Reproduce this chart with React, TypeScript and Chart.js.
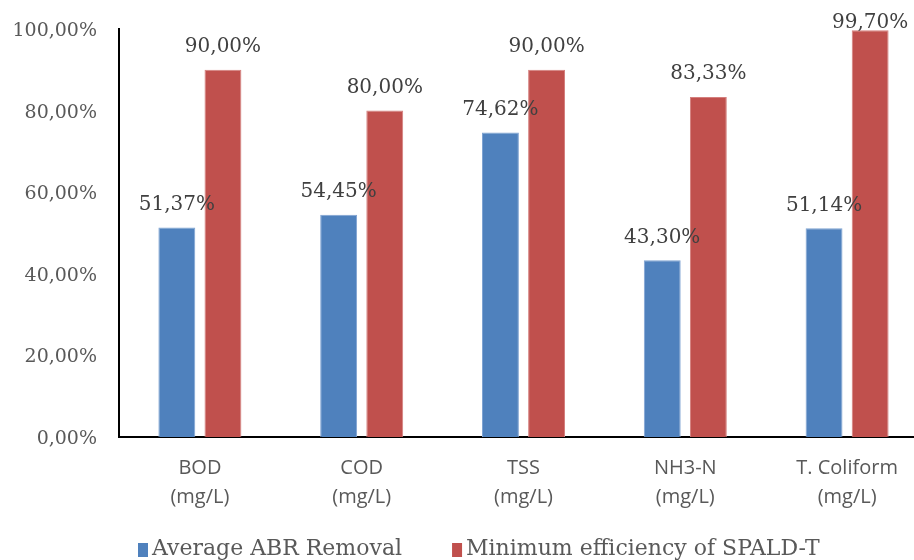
import React, { useEffect, useRef } from "react";
import { Chart, registerables } from "chart.js";

Chart.register(...registerables);

const categories: string[][] = [
  ["BOD", "(mg/L)"],
  ["COD", "(mg/L)"],
  ["TSS", "(mg/L)"],
  ["NH3-N", "(mg/L)"],
  ["T. Coliform", "(mg/L)"],
];
const abrRemoval: number[] = [51.37, 54.45, 74.62, 43.3, 51.14];
const spaldMin: number[] = [90.0, 80.0, 90.0, 83.33, 99.7];
const seriesNames: string[] = ["Average ABR Removal", "Minimum efficiency of SPALD-T"];
const yTicks: number[] = [0, 20, 40, 60, 80, 100];

const fmt = (v: number) => v.toFixed(2).replace(".", ",") + "%";

const SERIF = "'DejaVu Serif', 'Liberation Serif', serif";

const labelPlugin = {
  id: "barLabels",
  afterDatasetsDraw(chart: any) {
    const ctx = chart.ctx;
    const minBottom = chart.chartArea.top + 4;
    ctx.save();
    ctx.font = `20px ${SERIF}`;
    ctx.fillStyle = "#404040";
    ctx.textAlign = "center";
    ctx.textBaseline = "bottom";
    chart.data.datasets.forEach((ds: any, i: number) => {
      const meta = chart.getDatasetMeta(i);
      meta.data.forEach((bar: any, j: number) => {
        ctx.fillText(fmt(ds.data[j]), bar.x, Math.max(bar.y - 13, minBottom));
      });
    });
    ctx.restore();
  },
};

const legendPlugin = {
  id: "customLegend",
  afterDraw(chart: any) {
    const ctx = chart.ctx;
    ctx.save();
    ctx.font = `22px ${SERIF}`;
    ctx.textBaseline = "middle";
    ctx.textAlign = "left";
    const yMid = 549;
    let x = chart.chartArea.left + 19;
    chart.data.datasets.forEach((ds: any) => {
      ctx.fillStyle = ds.backgroundColor;
      ctx.fillRect(x, yMid - 6, 10, 14);
      ctx.fillStyle = "#595959";
      ctx.fillText(ds.label, x + 14, yMid);
      x += 14 + ctx.measureText(ds.label).width + 50;
    });
    ctx.restore();
  },
};

export default function App() {
  const ref = useRef<HTMLCanvasElement | null>(null);
  useEffect(() => {
    if (!ref.current) return;
    const chart = new Chart(ref.current, {
      type: "bar",
      data: {
        labels: categories,
        datasets: [
          {
            label: seriesNames[0],
            data: abrRemoval,
            backgroundColor: "#4F81BD",
            borderColor: "#7FA3D2",
            borderWidth: 1,
            categoryPercentage: 0.57,
            barPercentage: 0.8,
          },
          {
            label: seriesNames[1],
            data: spaldMin,
            backgroundColor: "#C0504D",
            borderColor: "#D47F7D",
            borderWidth: 1,
            categoryPercentage: 0.57,
            barPercentage: 0.8,
          },
        ],
      },
      options: {
        responsive: false,
        animation: false,
        layout: { padding: { top: 29, left: 0, right: 0, bottom: 41 } },
        plugins: {
          tooltip: { enabled: false },
          legend: { display: false },
        },
        scales: {
          x: {
            grid: { display: false, drawTicks: false },
            border: { display: true, color: "#000", width: 2 },
            ticks: {
              font: { family: "'Open Sans', sans-serif", size: 20, lineHeight: 1.45 },
              color: "#595959",
              padding: 17,
              maxRotation: 0,
            },
            afterFit: (s: any) => {
              s.height = 91;
            },
          },
          y: {
            min: 0,
            max: 100,
            afterBuildTicks: (s: any) => {
              s.ticks = yTicks.map((v) => ({ value: v }));
            },
            grid: { display: false, drawTicks: false },
            border: { display: true, color: "#000", width: 2 },
            ticks: {
              font: { family: SERIF, size: 19 },
              color: "#595959",
              padding: 22,
              labelOffset: 2,
              callback: (v: any) => fmt(Number(v)),
            },
            afterFit: (s: any) => {
              s.width = 119;
              s.paddingTop = 0;
              s.paddingBottom = 0;
            },
          },
        },
      },
      plugins: [labelPlugin, legendPlugin],
    });
    return () => chart.destroy();
  }, []);
  return (
    <div style={{ position: "fixed", left: 0, top: 0, width: 914, height: 560, overflow: "hidden", background: "#fff" }}>
      <canvas ref={ref} width={928} height={569} style={{ width: 928, height: 569, display: "block" }} />
    </div>
  );
}
